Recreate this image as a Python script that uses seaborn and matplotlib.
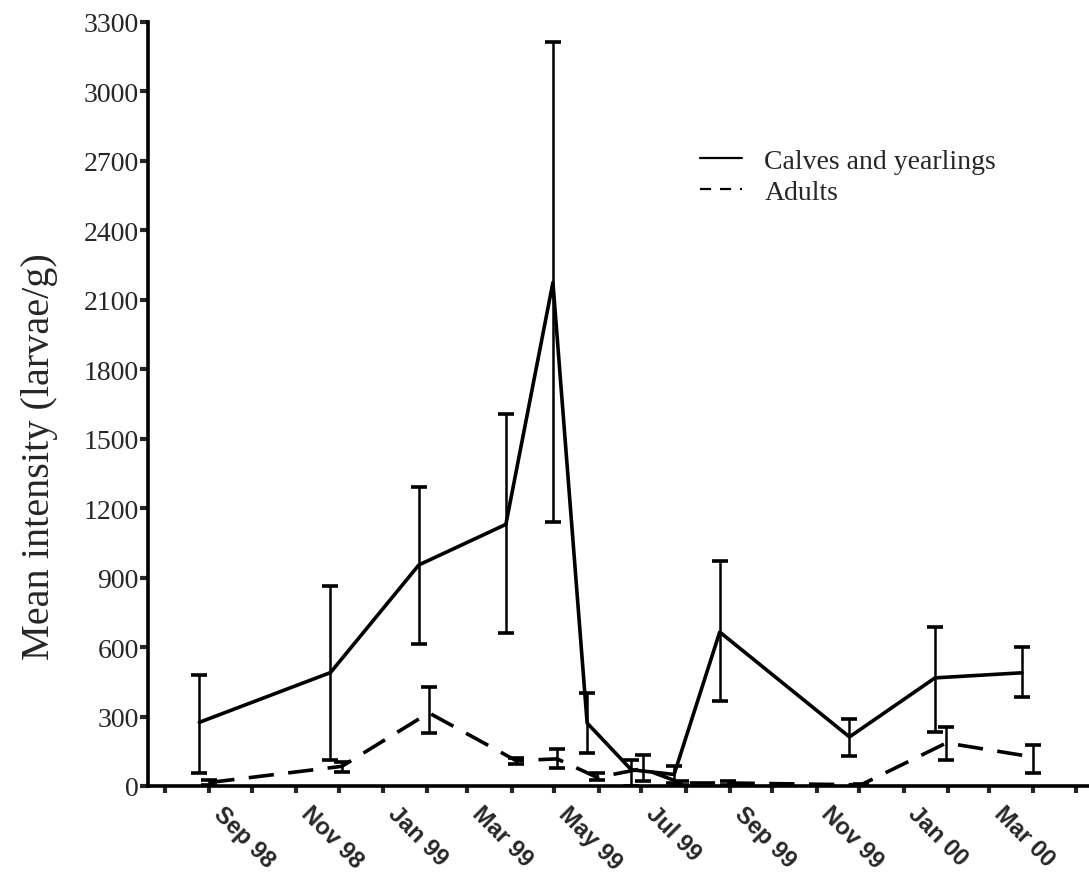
import matplotlib
matplotlib.use("Agg")
import matplotlib.pyplot as plt
import matplotlib.dates as mdates
from matplotlib.lines import Line2D
import numpy as np
import pandas as pd
import seaborn as sns

# ---------------- data ----------------
calves_dates = ["1998-08-25", "1998-11-25", "1999-01-26", "1999-03-28", "1999-04-30",
                "1999-05-24", "1999-06-24", "1999-07-24", "1999-08-25", "1999-11-24",
                "2000-01-23", "2000-03-24"]
calves_mean = [275, 490, 955, 1130, 2175, 272, 70, 50, 665, 212, 467, 489]
calves_hi = [480, 865, 1293, 1605, 3213, 402, 112, 85, 973, 290, 688, 601]
calves_lo = [56, 112, 614, 662, 1142, 143, 0, 15, 368, 130, 234, 385]

adults_dates = ["1998-09-01", "1998-12-03", "1999-02-02", "1999-04-04", "1999-05-03",
                "1999-05-31", "1999-07-02", "1999-07-29", "1999-08-31", "1999-12-02",
                "2000-01-31", "2000-04-01"]
adults_mean = [15, 85, 316, 110, 117, 37, 75, 13, 13, 5, 186, 125]
adults_hi = [25, 105, 428, 121, 160, 56, 134, 20, 20, 10, 255, 177]
adults_lo = [5, 60, 229, 95, 78, 26, 22, 5, 5, 0, 112, 56]

tick_dates = ["1998-09-01", "1998-11-01", "1999-01-01", "1999-03-01", "1999-05-01",
              "1999-07-01", "1999-09-01", "1999-11-01", "2000-01-01", "2000-03-01"]
tick_labels = ["Sep 98", "Nov 98", "Jan 99", "Mar 99", "May 99",
               "Jul 99", "Sep 99", "Nov 99", "Jan 00", "Mar 00"]
y_ticks = list(range(0, 3301, 300))

series_names = ["Calves and yearlings", "Adults"]

# ---------------- styling ----------------
sns.set_style("ticks")
plt.rcParams["font.family"] = ["Liberation Serif", "DejaVu Serif"]

calves = pd.DataFrame({"date": pd.to_datetime(calves_dates), "mean": calves_mean,
                       "hi": calves_hi, "lo": calves_lo})
adults = pd.DataFrame({"date": pd.to_datetime(adults_dates), "mean": adults_mean,
                       "hi": adults_hi, "lo": adults_lo})

fig = plt.figure(figsize=(10.89, 8.78), dpi=100)
W, H = 1089, 878
ax = fig.add_axes([148 / W, 1 - 787 / H, (W - 148) / W, (787 - 23) / H])

lw = 2.6
sns.lineplot(data=calves, x="date", y="mean", ax=ax, color="black", linewidth=lw,
             linestyle="-", estimator=None, sort=False)
sns.lineplot(data=adults, x="date", y="mean", ax=ax, color="black", linewidth=lw,
             linestyle=(0, (7, 4)), estimator=None, sort=False)

for df in (calves, adults):
    yerr = np.vstack([df["mean"] - df["lo"], df["hi"] - df["mean"]])
    ax.errorbar(df["date"], df["mean"], yerr=yerr, fmt="none", ecolor="black",
                elinewidth=1.8, capsize=6, capthick=2.6, zorder=3)

ax.set_ylim(0, 3300)
ax.set_xlim(pd.Timestamp("1998-07-20"), pd.Timestamp("2000-05-10"))

ax.set_yticks(y_ticks)
ax.set_yticklabels([str(v) for v in y_ticks], fontsize=20)
ax.set_xticks(pd.to_datetime(tick_dates))
ax.set_xticklabels(tick_labels, rotation=-45, ha="left", va="bottom",
                   rotation_mode="anchor", fontsize=17, fontweight="bold",
                   family=["Liberation Sans", "DejaVu Sans"])
ax.xaxis.set_minor_locator(mdates.MonthLocator())
ax.tick_params(axis="y", direction="out", length=6, width=3, pad=0.5)
ax.tick_params(axis="x", which="both", direction="out", length=5, width=3, pad=18)

for s in ("top", "right"):
    ax.spines[s].set_visible(False)
for s in ("left", "bottom"):
    ax.spines[s].set_linewidth(2.6)
    ax.spines[s].set_color("black")

ax.set_xlabel("")
ax.set_ylabel("Mean intensity (larvae/g)", fontsize=29)
ax.yaxis.set_label_coords(-0.0956, 0.432)

handles = [Line2D([], [], color="black", linewidth=1.6, linestyle="-"),
           Line2D([], [], color="black", linewidth=1.6, linestyle=(0, (5, 4)))]
ax.legend(handles, series_names, loc="upper left", bbox_to_anchor=(0.587, 0.835),
          frameon=False, fontsize=20, handlelength=1.5, handletextpad=0.8,
          labelspacing=0.2, borderpad=0, borderaxespad=0)

fig.savefig("out.png", dpi=100, facecolor="white")
